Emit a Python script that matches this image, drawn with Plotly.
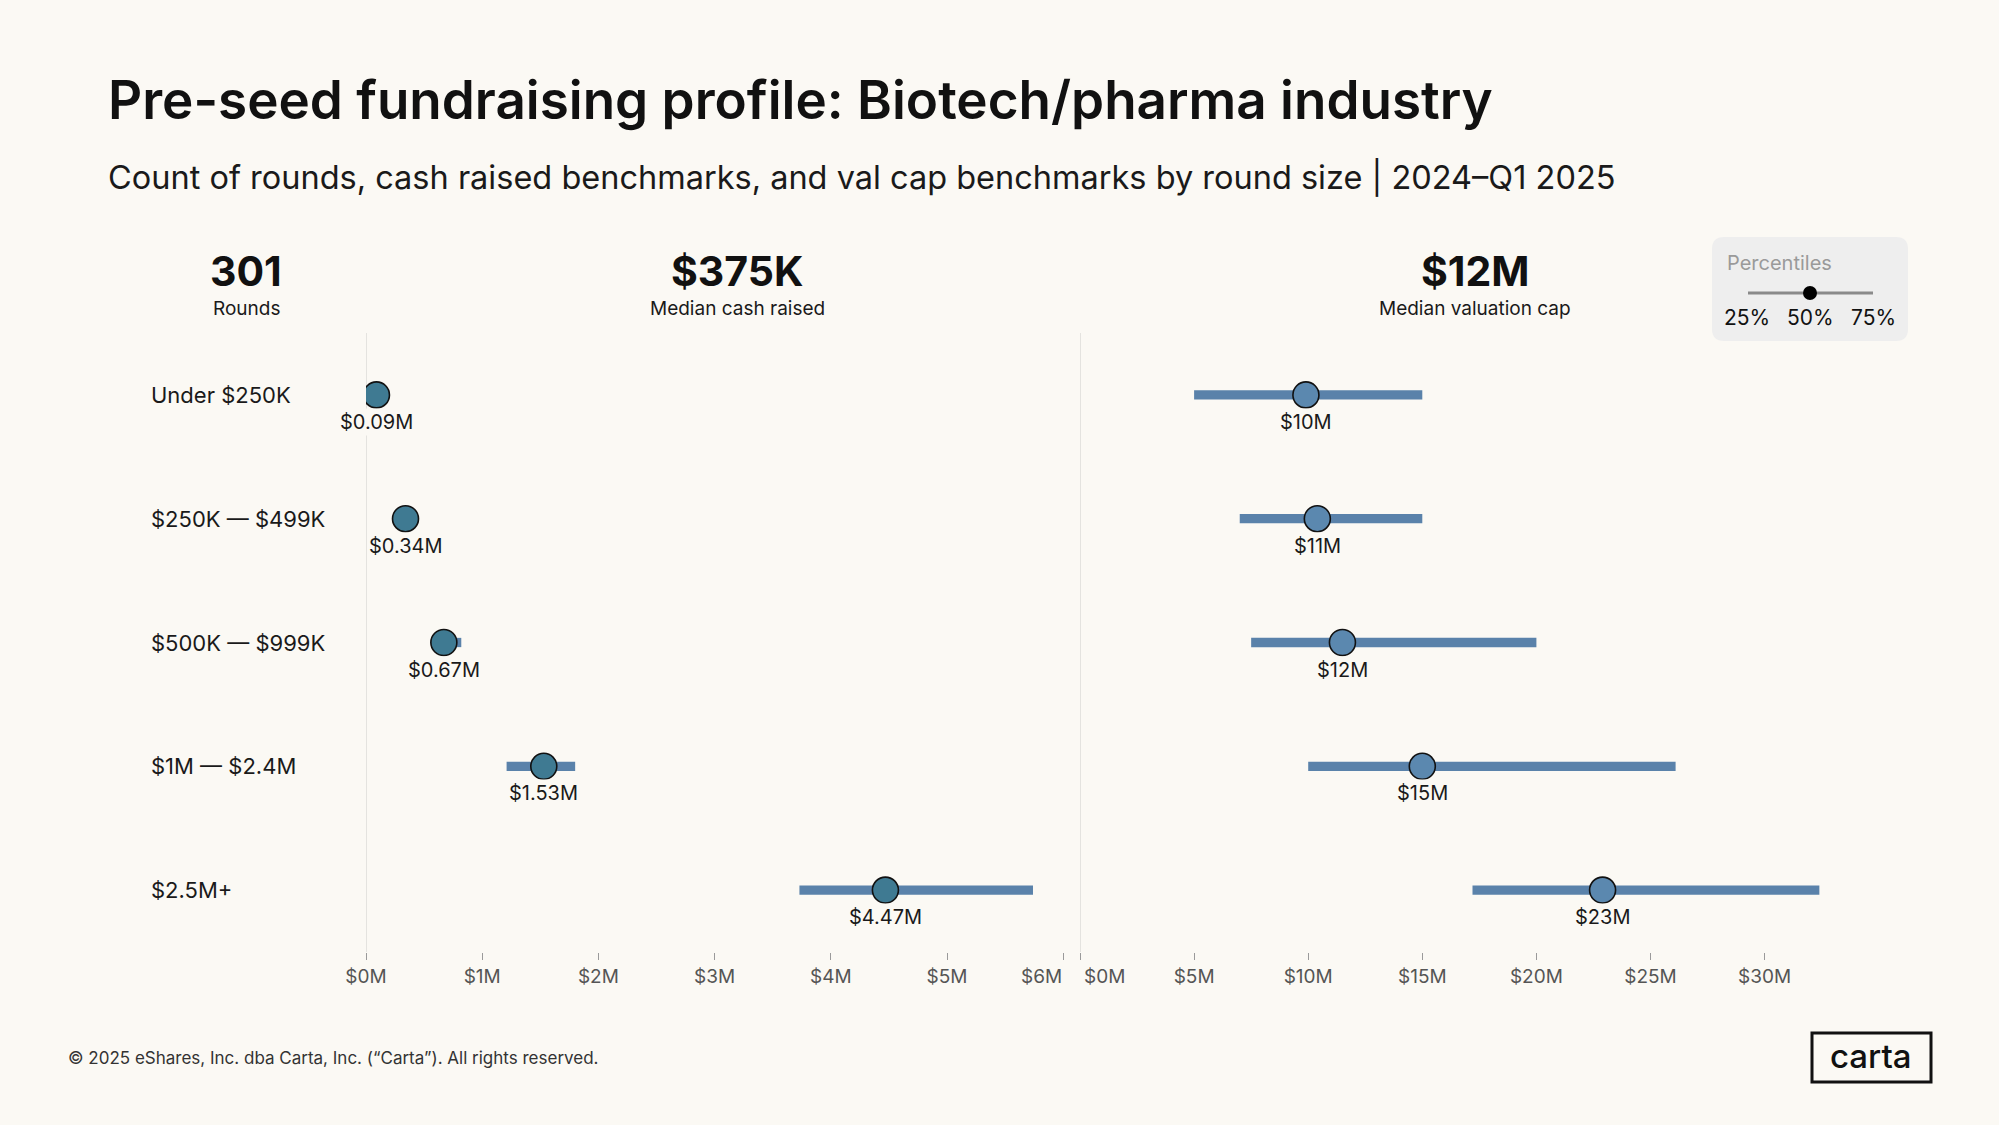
import plotly.graph_objects as go

# rows, top to bottom
round_sizes = ["Under $250K", "$250K — $499K", "$500K — $999K", "$1M — $2.4M", "$2.5M+"]

# cash raised ($M): 25th / 50th / 75th percentile
cash_p25 = [0.07, 0.30, 0.57, 1.21, 3.73]
cash_p50 = [0.09, 0.34, 0.67, 1.53, 4.47]
cash_p75 = [0.10, 0.40, 0.82, 1.80, 5.74]
cash_labels = ["$0.09M", "$0.34M", "$0.67M", "$1.53M", "$4.47M"]

# valuation cap ($M): 25th / 50th / 75th percentile
cap_p25 = [5.0, 7.0, 7.5, 10.0, 17.2]
cap_p50 = [9.9, 10.4, 11.5, 15.0, 22.9]
cap_p75 = [15.0, 15.0, 20.0, 26.1, 32.4]
cap_labels = ["$10M", "$11M", "$12M", "$15M", "$23M"]

cash_ticks = [0, 1, 2, 3, 4, 5, 6]
cash_ticktext = ["$0M", "$1M", "$2M", "$3M", "$4M", "$5M", ""]
cap_ticks = [0, 5, 10, 15, 20, 25, 30]
cap_ticktext = ["", "$5M", "$10M", "$15M", "$20M", "$25M", "$30M"]

headline = [("301", "Rounds"), ("$375K", "Median cash raised"), ("$12M", "Median valuation cap")]

W, H = 1999, 1125
BG = "#FBF9F4"
FONT = "Inter"
BAR = "#5A82AA"


def px(x):
    return x / W


def py(y):
    return 1 - y / H


def note(x, y, text, size, color="#1a1a1a", anchor="center", weight=400, **kw):
    d = dict(x=x, y=y, text=text, showarrow=False, xanchor=anchor, yanchor="middle",
             font=dict(size=size, color=color, weight=weight))
    d.setdefault("xref", "paper")
    d.setdefault("yref", "paper")
    d.update(kw)
    return d


rows = list(range(len(round_sizes)))

fig = go.Figure()

# percentile bars
fig.add_trace(go.Bar(orientation="h", y=rows, base=cash_p25,
                     x=[b - a for a, b in zip(cash_p25, cash_p75)],
                     width=0.075, marker_color=BAR, marker_line_width=0,
                     xaxis="x", yaxis="y"))
fig.add_trace(go.Bar(orientation="h", y=rows, base=cap_p25,
                     x=[b - a for a, b in zip(cap_p25, cap_p75)],
                     width=0.075, marker_color=BAR, marker_line_width=0,
                     xaxis="x2", yaxis="y"))

# medians
fig.add_trace(go.Scatter(x=cash_p50, y=rows, mode="markers", xaxis="x", yaxis="y",
                         marker=dict(size=26, color="#3F7A92", line=dict(color="#111", width=1.6))))
fig.add_trace(go.Scatter(x=cap_p50, y=rows, mode="markers", xaxis="x2", yaxis="y",
                         marker=dict(size=26, color="#5B88AF", line=dict(color="#111", width=1.6))))

ann = []
for i, lab in enumerate(cash_labels):
    ann.append(note(cash_p50[i], i, lab, 20, xref="x", yref="y", yshift=-27, bgcolor=BG, borderpad=1))
for i, lab in enumerate(cap_labels):
    ann.append(note(cap_p50[i], i, lab, 20, xref="x2", yref="y", yshift=-27, bgcolor=BG, borderpad=1))
for i, name in enumerate(round_sizes):
    ann.append(note(px(149), i, name, 22, anchor="left", yref="y"))

# tick labels either side of the divider, pushed away from it
ann.append(note(cash_ticks[-1], py(976), "$6M", 19, color="#555", anchor="right", xref="x", xshift=1))
ann.append(note(cap_ticks[0], py(976), "$0M", 19, color="#555", anchor="left", xref="x2", xshift=2))

# title block
ann.append(note(px(106), py(100), "Pre-seed fundraising profile: Biotech/pharma industry",
                53, color="#111", anchor="left", weight=600))
ann.append(note(px(106), py(177),
                "Count of rounds, cash raised benchmarks, and val cap benchmarks by round size | 2024–Q1 2025",
                32.5, anchor="left"))

for cx, (big, small) in zip([246, 737, 1475], headline):
    ann.append(note(px(cx), py(271), big, 41, color="#111", weight=700))
    ann.append(note(px(cx), py(308), small, 19))

# legend box
ann.append(note(px(1725), py(263), "Percentiles", 20, color="#9a9a9a", anchor="left"))
for lx, lab in zip([1747, 1810, 1873], ["25%", "50%", "75%"]):
    ann.append(note(px(lx), py(318), lab, 21, color="#111"))

# footer
ann.append(note(px(66), py(1058), "© 2025 eShares, Inc. dba Carta, Inc. (“Carta”). All rights reserved.",
                17, color="#333", anchor="left"))
ann.append(note(px(1871), py(1056), "carta", 33, color="#111", weight=500))


def rounded_rect(x0, y0, x1, y1, r):
    X0, X1 = px(x0), px(x1)
    Y0, Y1 = py(y0), py(y1)
    rx, ry = r / W, r / H
    return (f"M {X0 + rx},{Y0} L {X1 - rx},{Y0} Q {X1},{Y0} {X1},{Y0 - ry} "
            f"L {X1},{Y1 + ry} Q {X1},{Y1} {X1 - rx},{Y1} L {X0 + rx},{Y1} "
            f"Q {X0},{Y1} {X0},{Y1 + ry} L {X0},{Y0 - ry} Q {X0},{Y0} {X0 + rx},{Y0} Z")


shapes = [
    # panel dividers
    dict(type="line", xref="x", yref="y domain", x0=0, x1=0, y0=0, y1=1,
         line=dict(color="#d6d4d0", width=1.2), layer="below"),
    dict(type="line", xref="x2", yref="y domain", x0=0, x1=0, y0=0, y1=1,
         line=dict(color="#d6d4d0", width=1.2), layer="below"),
    # legend
    dict(type="path", xref="paper", yref="paper", path=rounded_rect(1712, 237, 1908, 341, 12),
         fillcolor="#EEEEEE", line=dict(width=0), layer="below"),
    dict(type="line", xref="paper", yref="paper", x0=px(1748), x1=px(1873), y0=py(293), y1=py(293),
         line=dict(color="#8a8a8a", width=3)),
    dict(type="circle", xref="paper", yref="paper", x0=px(1803), x1=px(1817), y0=py(286), y1=py(300),
         fillcolor="#000", line=dict(width=0)),
    # logo box
    dict(type="rect", xref="paper", yref="paper", x0=px(1812), x1=px(1931), y0=py(1033), y1=py(1082),
         line=dict(color="#111", width=3)),
]

tickfont = dict(size=19, color="#555")
axis_common = dict(ticks="outside", ticklen=7, tickcolor="#9a9a9a", tickwidth=1.2,
                   showgrid=False, zeroline=False, showline=False, tickfont=tickfont,
                   fixedrange=True, automargin=False, anchor="y")
fig.update_layout(
    template="none",
    width=W, height=H, margin=dict(l=0, r=0, t=0, b=0, pad=0), autosize=False,
    paper_bgcolor=BG, plot_bgcolor=BG, showlegend=False, barmode="overlay",
    font=dict(family=FONT, color="#111"),
    xaxis=dict(domain=[px(366), px(1080)], range=[0, (1080 - 366) / 116.2],
               tickvals=cash_ticks, ticktext=cash_ticktext, **axis_common),
    xaxis2=dict(domain=[px(1080), px(1905)], range=[0, (1905 - 1080) / 22.82],
                tickvals=cap_ticks, ticktext=cap_ticktext, **axis_common),
    yaxis=dict(domain=[py(952), py(333)], range=[4.5, -0.5], visible=False,
               fixedrange=True, automargin=False),
    annotations=ann, shapes=shapes,
)

fig.write_html("out.html", config={"displayModeBar": False},
               post_script="document.body.style.margin='0';document.body.style.overflow='hidden';")
